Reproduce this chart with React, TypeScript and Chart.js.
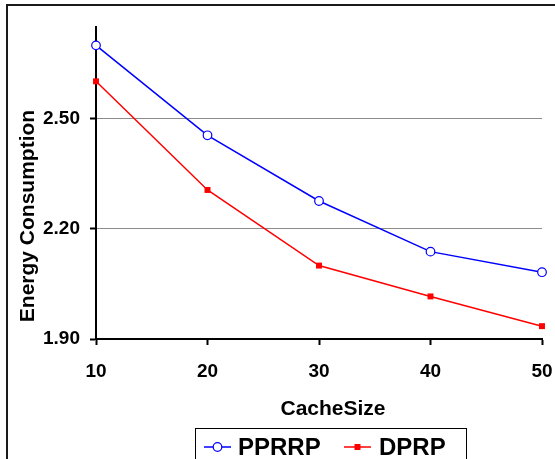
import React, { useEffect, useRef } from "react";
import { Chart, registerables } from "chart.js";

Chart.register(...registerables);

const categories = ["10", "20", "30", "40", "50"];
const pprrpValues = [2.7, 2.455, 2.276, 2.138, 2.082];
const dprpValues = [2.602, 2.306, 2.1, 2.016, 1.935];
const yTickValues = [1.9, 2.2, 2.5];
const seriesNames = ["PPRRP", "DPRP"];
const xTitle = "CacheSize";
const yTitle = "Energy Consumption";

const FONT = '"Liberation Sans", Arial, Helvetica, sans-serif';

const decorPlugin = {
  id: "decor",
  beforeDraw(chart: any) {
    const ctx = chart.ctx;
    ctx.save();
    ctx.fillStyle = "#ffffff";
    ctx.fillRect(0, 0, chart.width, chart.height);
    ctx.restore();
  },
  afterDraw(chart: any) {
    const ctx = chart.ctx;
    ctx.save();
    // outer frame
    ctx.strokeStyle = "#1a1a1a";
    ctx.lineWidth = 2;
    ctx.beginPath();
    ctx.moveTo(7, chart.height + 5);
    ctx.lineTo(7, 5);
    ctx.lineTo(chart.width + 5, 5);
    ctx.stroke();

    // axis titles
    ctx.fillStyle = "#000";
    ctx.font = `bold 21px ${FONT}`;
    ctx.textAlign = "center";
    ctx.textBaseline = "alphabetic";
    ctx.fillText(xTitle, 333, 415);
    ctx.save();
    ctx.translate(34, 216);
    ctx.rotate(-Math.PI / 2);
    ctx.fillText(yTitle, 0, 0);
    ctx.restore();

    // legend
    ctx.strokeStyle = "#000";
    ctx.lineWidth = 1;
    ctx.strokeRect(195.5, 428.5, 271, 50);
    const ly = 447;
    const ds = chart.data.datasets;
    const items = [
      { x0: 204, x1: 231, tx: 238 },
      { x0: 344, x1: 371, tx: 379 },
    ];
    items.forEach((it, i) => {
      const d = ds[i];
      ctx.strokeStyle = d.borderColor;
      ctx.lineWidth = 1.5;
      ctx.beginPath();
      ctx.moveTo(it.x0, ly);
      ctx.lineTo(it.x1, ly);
      ctx.stroke();
      const cx = (it.x0 + it.x1) / 2;
      if (d.pointStyle === "circle") {
        ctx.beginPath();
        ctx.arc(cx, ly, 4.3, 0, Math.PI * 2);
        ctx.fillStyle = "#fff";
        ctx.fill();
        ctx.lineWidth = 1.2;
        ctx.stroke();
      } else {
        ctx.fillStyle = d.pointBackgroundColor;
        ctx.fillRect(cx - 3, ly - 3, 6, 6);
      }
      ctx.fillStyle = "#000";
      ctx.font = `bold 24px ${FONT}`;
      ctx.textAlign = "left";
      ctx.textBaseline = "alphabetic";
      ctx.fillText(d.label, it.tx, 455);
    });
    ctx.restore();
  },
};

export default function App() {
  const canvasRef = useRef<HTMLCanvasElement | null>(null);

  useEffect(() => {
    document.body.style.margin = "0";
    const canvas = canvasRef.current;
    if (!canvas) return;
    const chart = new Chart(canvas, {
      type: "line",
      data: {
        labels: categories,
        datasets: [
          {
            label: seriesNames[0],
            data: pprrpValues,
            borderColor: "#0000ff",
            borderWidth: 1.5,
            pointStyle: "circle",
            pointRadius: 4.3,
            pointBackgroundColor: "#ffffff",
            pointBorderColor: "#0000ff",
            pointBorderWidth: 1.2,
            tension: 0,
            fill: false,
            clip: false,
          } as any,
          {
            label: seriesNames[1],
            data: dprpValues,
            borderColor: "#ff0000",
            borderWidth: 1.5,
            pointStyle: "rect",
            pointRadius: 4.2,
            pointBackgroundColor: "#ff0000",
            pointBorderColor: "#ff0000",
            pointBorderWidth: 0,
            tension: 0,
            fill: false,
            clip: false,
          } as any,
        ],
      },
      options: {
        responsive: false,
        animation: false,
        devicePixelRatio: 1,
        layout: { padding: { left: 0, top: 27, right: 13, bottom: 0 } },
        plugins: {
          legend: { display: false },
          tooltip: { enabled: false },
          title: { display: false },
        },
        scales: {
          x: {
            type: "category",
            offset: false,
            afterFit: (scale: any) => {
              scale.height = 120;
              scale.paddingLeft = 0;
              scale.paddingRight = 0;
            },
            grid: {
              drawOnChartArea: false,
              drawTicks: true,
              tickLength: 6,
              tickColor: "#000",
              tickWidth: 2,
              color: "#000",
            },
            border: { display: true, color: "#000", width: 2 },
            ticks: {
              color: "#000",
              font: { family: FONT, size: 19, weight: "bold" },
              padding: 15,
              maxRotation: 0,
              autoSkip: false,
            },
          },
          y: {
            type: "linear",
            min: 1.9,
            max: 2.75,
            afterFit: (scale: any) => {
              scale.width = 96;
              scale.paddingTop = 0;
              scale.paddingBottom = 0;
            },
            afterBuildTicks: (scale: any) => {
              scale.ticks = yTickValues.map((v) => ({ value: v }));
            },
            grid: {
              drawOnChartArea: true,
              drawTicks: true,
              tickLength: 6,
              tickColor: "#000",
              tickWidth: 2,
              lineWidth: 1,
              color: (c: any) =>
                c.tick && Math.abs(c.tick.value - yTickValues[0]) < 1e-6
                  ? "rgba(0,0,0,0)"
                  : "#8c8c8c",
            },
            border: { display: true, color: "#000", width: 2 },
            ticks: {
              color: "#000",
              font: { family: FONT, size: 19, weight: "bold" },
              padding: 10,
              callback: (v: any) => Number(v).toFixed(2),
            },
          },
        },
      } as any,
      plugins: [decorPlugin],
    });
    return () => chart.destroy();
  }, []);

  return (
    <div style={{ position: "fixed", left: 0, top: 0, width: 555, height: 459 }}>
      <canvas ref={canvasRef} width={555} height={459} style={{ width: 555, height: 459, display: "block" }} />
    </div>
  );
}
